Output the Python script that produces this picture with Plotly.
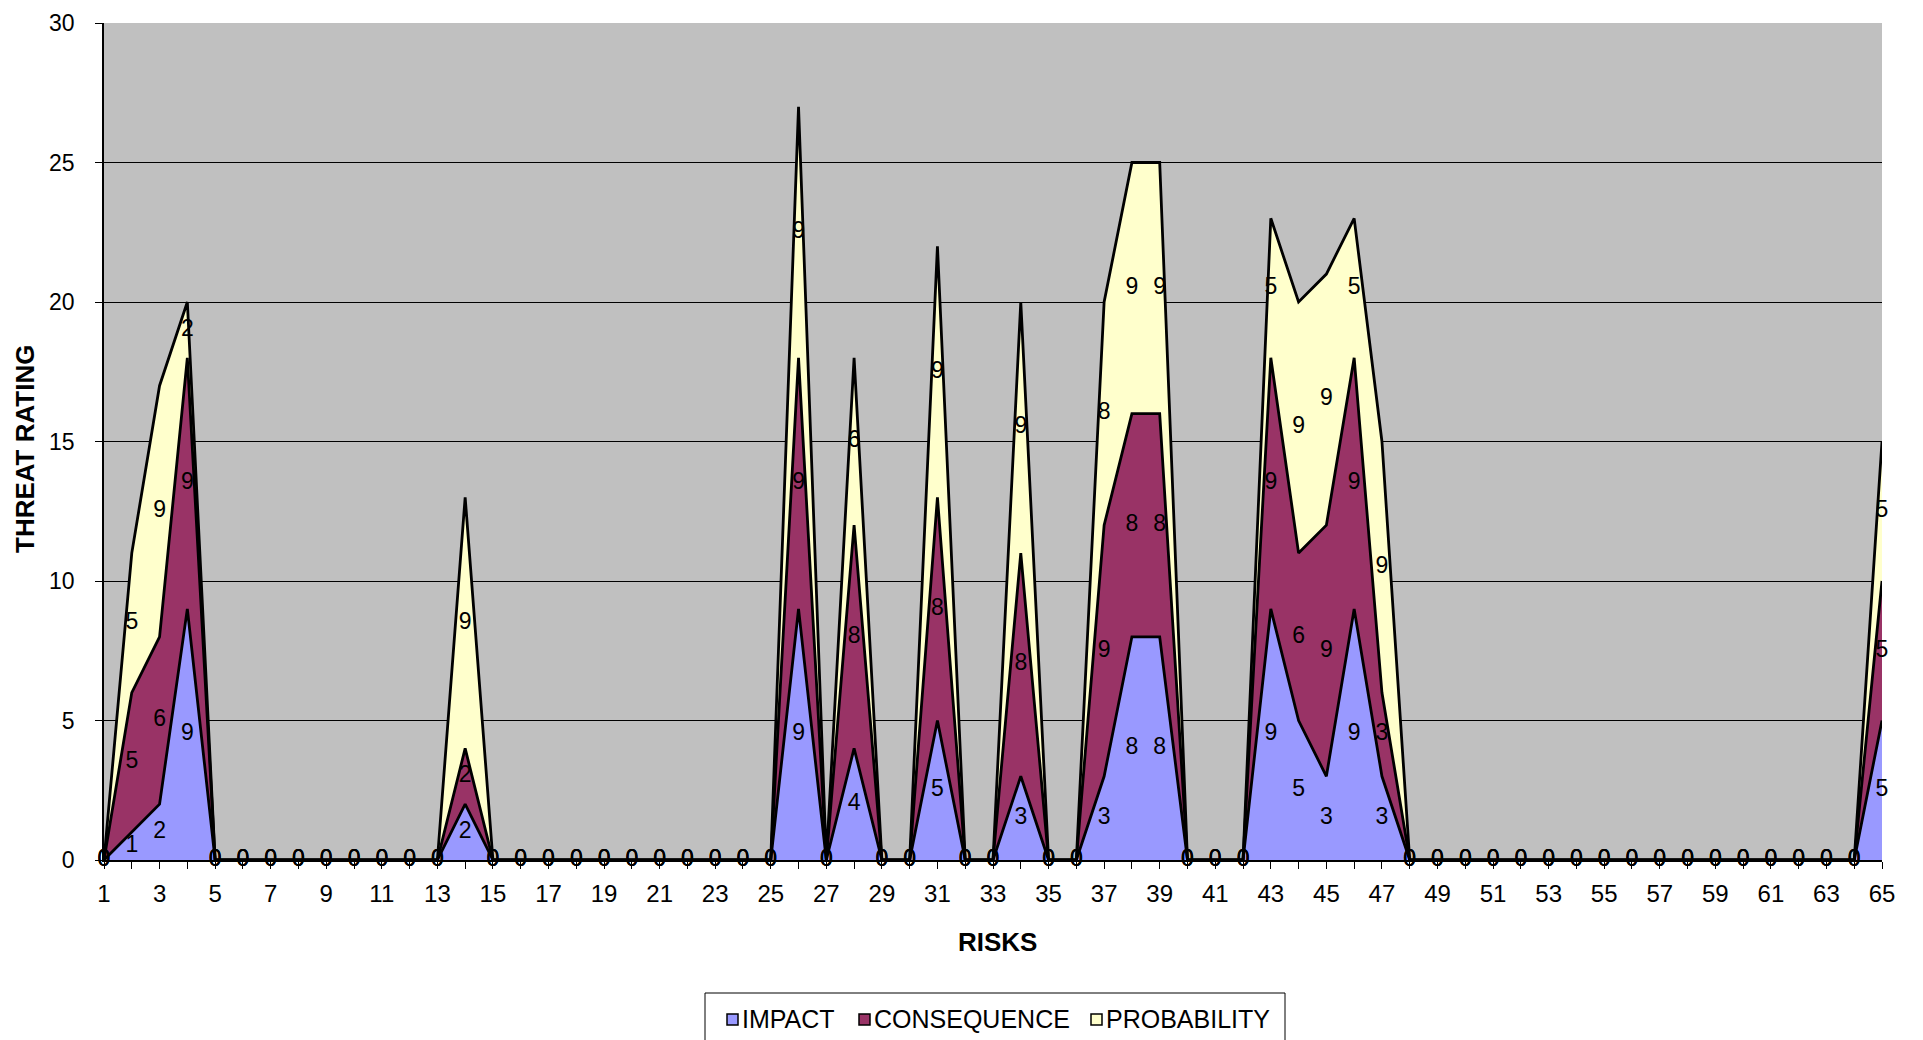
import plotly.graph_objects as go

risks = list(range(1, 66))

impact = [0, 1, 2, 9, 0, 0, 0, 0, 0, 0,
          0, 0, 0, 2, 0, 0, 0, 0, 0, 0,
          0, 0, 0, 0, 0, 9, 0, 4, 0, 0,
          5, 0, 0, 3, 0, 0, 3, 8, 8, 0,
          0, 0, 9, 5, 3, 9, 3, 0, 0, 0,
          0, 0, 0, 0, 0, 0, 0, 0, 0, 0,
          0, 0, 0, 0, 5]

consequence = [0, 5, 6, 9, 0, 0, 0, 0, 0, 0,
               0, 0, 0, 2, 0, 0, 0, 0, 0, 0,
               0, 0, 0, 0, 0, 9, 0, 8, 0, 0,
               8, 0, 0, 8, 0, 0, 9, 8, 8, 0,
               0, 0, 9, 6, 9, 9, 3, 0, 0, 0,
               0, 0, 0, 0, 0, 0, 0, 0, 0, 0,
               0, 0, 0, 0, 5]

probability = [0, 5, 9, 2, 0, 0, 0, 0, 0, 0,
               0, 0, 0, 9, 0, 0, 0, 0, 0, 0,
               0, 0, 0, 0, 0, 9, 0, 6, 0, 0,
               9, 0, 0, 9, 0, 0, 8, 9, 9, 0,
               0, 0, 5, 9, 9, 5, 9, 0, 0, 0,
               0, 0, 0, 0, 0, 0, 0, 0, 0, 0,
               0, 0, 0, 0, 5]

series_names = ["IMPACT", "CONSEQUENCE", "PROBABILITY"]
series_values = [impact, consequence, probability]
series_colors = ["#9999FF", "#993366", "#FFFFCC"]

x_tick_labels = [str(v) for v in range(1, 66, 2)]
y_ticks = [0, 5, 10, 15, 20, 25, 30]

FONT = "Liberation Sans, Arial, sans-serif"

# page layout helpers (page has an 8px body margin)
W, H = 1915, 1032
ML, MR, MT, MB = 96, 41, 15, 180
PW, PH = W - ML - MR, H - MT - MB


def px(xp):
    return (xp - 8 - ML) / PW


def py(yp):
    return (H - MB - (yp - 8)) / PH


fig = go.Figure()

for name, vals, col in zip(series_names, series_values, series_colors):
    fig.add_trace(go.Scatter(
        x=risks, y=vals, name=name, mode="lines",
        stackgroup="one", line=dict(color="black", width=2.8),
        fillcolor=col, hoverinfo="x+y+name", showlegend=False,
    ))

# data labels at middle of each stacked band
base = [0] * len(risks)
for vals in series_values:
    mids = [base[i] + v / 2.0 for i, v in enumerate(vals)]
    fig.add_trace(go.Scatter(
        x=risks, y=mids, mode="text", text=[str(v) for v in vals],
        textposition="middle center", showlegend=False, hoverinfo="skip",
        textfont=dict(family=FONT, size=23, color="black"), cliponaxis=False,
    ))
    base = [b + v for b, v in zip(base, vals)]

# manual legend (box, squares, texts)
shapes = [dict(type="rect", xref="paper", yref="paper",
               x0=px(705), x1=px(1285), y0=py(993), y1=py(1060),
               line=dict(color="black", width=1), fillcolor="white", layer="above")]
annotations = []
sq_left = [727, 859, 1091]
txt_left = [740, 872, 1104]
for name, col, sx, tx in zip(series_names, series_colors, sq_left, txt_left):
    shapes.append(dict(type="rect", xref="paper", yref="paper",
                       x0=px(sx), x1=px(sx + 11), y0=py(1014), y1=py(1025),
                       line=dict(color="black", width=1.5), fillcolor=col, layer="above"))
    annotations.append(dict(text=name, xref="paper", yref="paper", x=px(tx), y=py(1019.5),
                            xanchor="left", yanchor="middle", showarrow=False,
                            font=dict(family=FONT, size=25, color="black")))

annotations += [
    dict(text="<b>RISKS</b>", xref="paper", yref="paper", x=px(997), y=py(942),
         xanchor="center", yanchor="middle", showarrow=False,
         font=dict(family=FONT, size=26, color="black")),
    dict(text="<b>THREAT RATING</b>", xref="paper", yref="paper", x=px(25), y=py(449),
         xanchor="center", yanchor="middle", showarrow=False, textangle=-90,
         font=dict(family=FONT, size=26, color="black")),
]

fig.update_layout(
    width=W, height=H,
    paper_bgcolor="white", plot_bgcolor="#C0C0C0",
    margin=dict(l=ML, r=MR, t=MT, b=MB, autoexpand=False),
    font=dict(family=FONT, size=24, color="black"),
    showlegend=False,
    xaxis=dict(
        range=[1, 65], tickmode="array",
        tickvals=list(range(1, 66, 2)), ticktext=x_tick_labels,
        showgrid=False, zeroline=False, automargin=False,
        showline=True, linecolor="black", linewidth=1.5,
        ticks="outside", ticklen=7, tickcolor="black",
        ticklabelstandoff=4, ticklabeloverflow="allow",
        minor=dict(dtick=1, tick0=1, ticks="outside", ticklen=7, tickcolor="black"),
        tickfont=dict(family=FONT, size=24),
    ),
    yaxis=dict(
        range=[0, 30], tickmode="array", tickvals=y_ticks,
        ticktext=[str(v) for v in y_ticks], automargin=False,
        showgrid=True, gridcolor="black", gridwidth=1,
        zeroline=False, showline=True, linecolor="black", linewidth=1.5,
        ticks="outside", ticklen=7, tickcolor="black",
        ticklabelstandoff=16, ticklabeloverflow="allow",
        tickfont=dict(family=FONT, size=23),
    ),
    shapes=shapes,
    annotations=annotations,
)

fig.write_html("out.html")
